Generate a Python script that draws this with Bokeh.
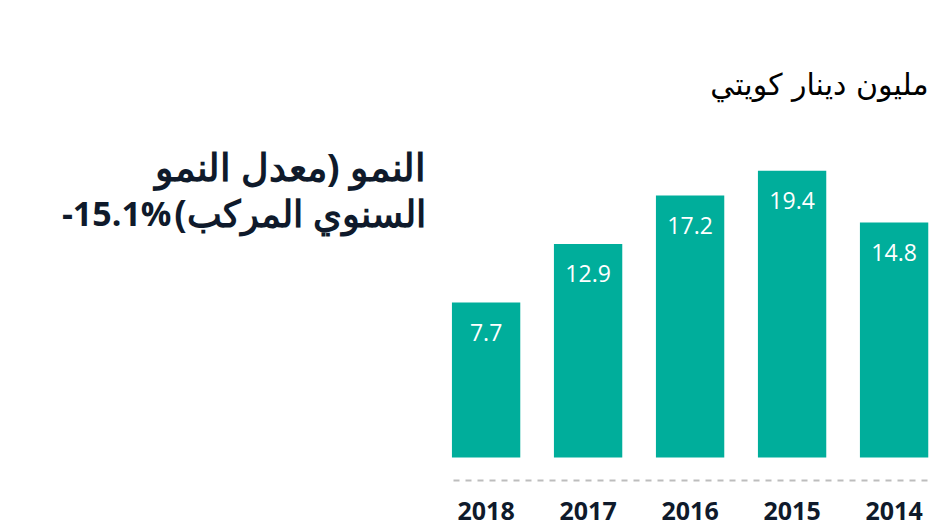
from bokeh.plotting import figure
from bokeh.models import ColumnDataSource, Range1d, Label, FixedTicker
from bokeh.core.properties import value
from bokeh.embed import file_html
from bokeh.resources import INLINE

# ---- data ----
years = ["2018", "2017", "2016", "2015", "2014"]
values = [7.7, 12.9, 17.2, 19.4, 14.8]
value_labels = [f"{v:.1f}" for v in values]
unit_text = "مليون دينار كويتي"
title_line1 = "النمو (معدل النمو"
title_line2 = "السنوي المركب)" + "\u200f"
cagr_text = "-15.1%"

positions = list(range(len(years)))

BAR_COLOR = "#00ae9b"
TEXT_COLOR = "#0f1a2b"
BASE = -6.07

src = ColumnDataSource(dict(x=positions, values=values, labels=value_labels,
                            base=[BASE] * len(values)))

p = figure(width=940, height=528, output_backend="svg", toolbar_location=None,
           x_range=Range1d(-4.761, 4.455),
           y_range=Range1d(-8.113, 34.52),
           min_border_left=0, min_border_right=0, min_border_top=0, min_border_bottom=48)

p.vbar(x="x", top="values", bottom="base", width=0.67, source=src,
       fill_color=BAR_COLOR, line_color=None)

p.text(x="x", y="values", text="labels", source=src, y_offset=30,
       text_align="center", text_baseline="middle", text_color="white",
       text_font=value("Open Sans"), text_font_size="23px")

p.yaxis.visible = False
p.xgrid.visible = False
p.ygrid.visible = False
p.outline_line_color = None

ax = p.xaxis[0]
ax.ticker = FixedTicker(ticks=positions)
ax.major_label_overrides = {i: y for i, y in zip(positions, years)}
ax.bounds = (-0.32, 4.33)
ax.axis_line_color = "#bdbdbd"
ax.axis_line_width = 2
ax.axis_line_dash = "6 6"
ax.major_tick_line_color = None
ax.minor_tick_line_color = None
ax.major_tick_out = 0
ax.major_tick_in = 0
ax.major_label_standoff = 21
ax.major_label_text_font = "Open Sans"
ax.major_label_text_font_style = "bold"
ax.major_label_text_font_size = "25px"
ax.major_label_text_color = TEXT_COLOR

p.add_layout(Label(x=928, y=396, x_units="screen", y_units="screen", text=unit_text,
                   text_align="right", text_baseline="middle", text_color="black",
                   text_font="DejaVu Sans", text_font_size="30px"))
p.add_layout(Label(x=425, y=315, x_units="screen", y_units="screen", text=title_line1,
                   text_align="right", text_baseline="alphabetic", text_color=TEXT_COLOR,
                   text_font="Open Sans", text_font_style="bold", text_font_size="38px"))
p.add_layout(Label(x=425, y=268, x_units="screen", y_units="screen", text=title_line2,
                   text_align="right", text_baseline="alphabetic", text_color=TEXT_COLOR,
                   text_font="Open Sans", text_font_style="bold", text_font_size="37px"))
p.add_layout(Label(x=171, y=268, x_units="screen", y_units="screen", text=cagr_text,
                   text_align="right", text_baseline="alphabetic", text_color=TEXT_COLOR,
                   text_font="Open Sans", text_font_style="bold", text_font_size="34px"))

open("out.html", "w").write(file_html(p, INLINE))
